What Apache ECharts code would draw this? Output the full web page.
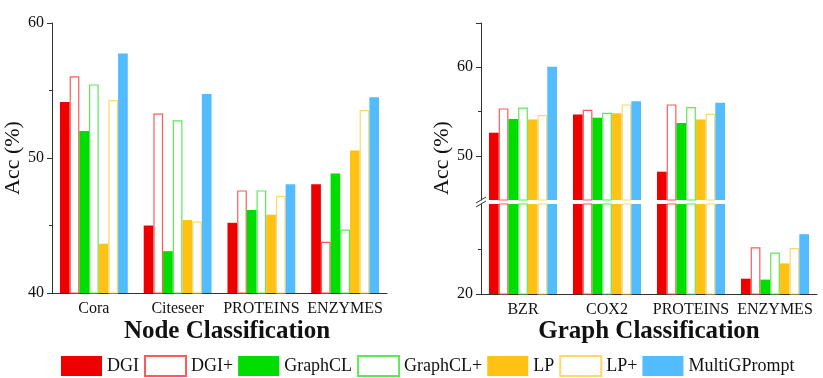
<!DOCTYPE html>
<html><head><meta charset="utf-8">
<script src="https://cdn.jsdelivr.net/npm/echarts@6/dist/echarts.min.js"></script>
<style>html,body{margin:0;padding:0;background:#fff}#c{width:823px;height:378px}</style>
</head><body><div id="c"></div>
<script>
const seriesNames = ['DGI', 'DGI+', 'GraphCL', 'GraphCL+', 'LP', 'LP+', 'MultiGPrompt'];
const nodeCategories = ['Cora', 'Citeseer', 'PROTEINS', 'ENZYMES'];
const graphCategories = ['BZR', 'COX2', 'PROTEINS', 'ENZYMES'];

// Node classification accuracies (%)
const nodeDGI         = [54.15, 45.0, 45.2, 48.05];
const nodeDGIPlus     = [56.05, 53.3, 47.6, 43.8];
const nodeGraphCL     = [52.0, 43.1, 46.15, 48.85];
const nodeGraphCLPlus = [55.45, 52.8, 47.6, 44.7];
const nodeLP          = [43.65, 45.4, 45.8, 50.55];
const nodeLPPlus      = [54.3, 45.3, 47.2, 53.55];
const nodeMulti       = [57.75, 54.75, 48.05, 54.5];

// Graph classification accuracies (%)
const graphDGI         = [52.6, 54.65, 48.2, 21.7];
const graphDGIPlus     = [55.35, 55.2, 55.8, 25.2];
const graphGraphCL     = [54.15, 54.3, 53.7, 21.6];
const graphGraphCLPlus = [55.45, 54.85, 55.5, 24.6];
const graphLP          = [54.1, 54.8, 54.1, 23.4];
const graphLPPlus      = [54.6, 55.8, 54.75, 25.1];
const graphMulti       = [60.05, 56.15, 56.0, 26.65];

const nodeTicks = [40, 50, 60];
const nodeMinorTicks = [45, 55];
const graphUpperTicks = [50, 60];
const graphUpperMinor = [55];
const graphLowerTicks = [20];
const graphLowerMinor = [25];

const nodeData = [nodeDGI, nodeDGIPlus, nodeGraphCL, nodeGraphCLPlus, nodeLP, nodeLPPlus, nodeMulti];
const graphData = [graphDGI, graphDGIPlus, graphGraphCL, graphGraphCLPlus, graphLP, graphLPPlus, graphMulti];

const colors = ['#ee0000', '#ff5a5a', '#00dd00', '#5be85b', '#fec214', '#ffd76a', '#52bcfe'];
const outlined = [false, true, false, true, false, true, false];

const FONT = 'Liberation Serif, Times New Roman, serif';
const AX = '#333';
const TXT = '#111';

function mk(i, data, xi, yi) {
  return {
    type: 'bar', name: seriesNames[i], data: data, xAxisIndex: xi, yAxisIndex: yi,
    barGap: '0%', barCategoryGap: '19%', clip: true,
    itemStyle: outlined[i] ? { color: '#ffffff', borderColor: colors[i], borderWidth: 1.2 } : { color: colors[i] },
    emphasis: { disabled: true }
  };
}
const series = [];
for (let i = 0; i < 7; i++) series.push(mk(i, nodeData[i], 0, 0));
for (let i = 0; i < 7; i++) series.push(mk(i, graphData[i], 2, 1));
for (let i = 0; i < 7; i++) series.push(mk(i, graphData[i], 3, 3));

function catAxis(grid, data, showLabels) {
  return {
    type: 'category', gridIndex: grid, data: data, position: 'bottom',
    axisLine: { onZero: false, lineStyle: { color: AX, width: 1 } },
    axisTick: { alignWithLabel: true, length: 5, lineStyle: { color: AX } },
    axisLabel: { show: showLabels, interval: 0, fontFamily: FONT, fontSize: 16, color: TXT, margin: 8 },
    splitLine: { show: false }
  };
}
function boundAxis(grid, data) {
  return {
    type: 'category', gridIndex: grid, data: data, position: 'bottom',
    axisLine: { show: false, onZero: false },
    axisTick: { alignWithLabel: false, length: 2, lineStyle: { color: AX } },
    axisLabel: { show: false }, splitLine: { show: false }
  };
}
function valAxis(grid, min, max, ticks, labels) {
  return {
    type: 'value', gridIndex: grid, min: min, max: max, position: 'left',
    axisLine: { show: true, lineStyle: { color: AX, width: 1 } },
    axisTick: { show: true, length: 5, customValues: ticks, lineStyle: { color: AX } },
    axisLabel: { customValues: labels, fontFamily: FONT, fontSize: 16, color: TXT, margin: 8 },
    splitLine: { show: false }
  };
}
function minorAxis(grid, min, max, ticks) {
  return {
    type: 'value', gridIndex: grid, min: min, max: max, position: 'left',
    axisLine: { show: false },
    axisTick: { show: true, length: 3, customValues: ticks, lineStyle: { color: AX } },
    axisLabel: { show: false }, splitLine: { show: false }
  };
}

const option = {
  animation: false,
  backgroundColor: '#ffffff',
  grid: [
    { left: 52, top: 23, width: 335, height: 270 },
    { left: 481, top: 23, width: 336, height: 177 },
    { left: 481, top: 204, width: 336, height: 90 }
  ],
  xAxis: [
    catAxis(0, nodeCategories, true),
    boundAxis(0, nodeCategories),
    Object.assign(catAxis(1, graphCategories, false), { show: false }),
    catAxis(2, graphCategories, true),
    boundAxis(2, graphCategories)
  ],
  yAxis: [
    valAxis(0, 40, 60, nodeTicks, nodeTicks),
    valAxis(1, 45, 65, graphUpperTicks.concat([65]), graphUpperTicks),
    minorAxis(1, 45, 65, graphUpperMinor),
    valAxis(2, 20, 30, graphLowerTicks, graphLowerTicks),
    minorAxis(2, 20, 30, graphLowerMinor),
    minorAxis(0, 40, 60, nodeMinorTicks)
  ],
  legend: {
    data: seriesNames, left: 61, top: 355, padding: 0,
    itemWidth: 41, itemHeight: 20, itemGap: 5, icon: 'rect',
    selectedMode: false,
    textStyle: { fontFamily: FONT, fontSize: 18, color: TXT }
  },
  graphic: [
    { type: 'text', x: 13, y: 158, rotation: Math.PI / 2,
      style: { text: 'Acc (%)', font: '22px ' + FONT, fill: TXT, align: 'center', verticalAlign: 'middle' } },
    { type: 'text', x: 442, y: 158, rotation: Math.PI / 2,
      style: { text: 'Acc (%)', font: '22px ' + FONT, fill: TXT, align: 'center', verticalAlign: 'middle' } },
    { type: 'text', x: 227, y: 332,
      style: { text: 'Node Classification', font: 'bold 25px ' + FONT, fill: TXT, align: 'center', verticalAlign: 'middle' } },
    { type: 'text', x: 649, y: 332,
      style: { text: 'Graph Classification', font: 'bold 25px ' + FONT, fill: TXT, align: 'center', verticalAlign: 'middle' } },
    { type: 'line', shape: { x1: 476, y1: 203, x2: 486, y2: 197 }, style: { stroke: AX, lineWidth: 1 } },
    { type: 'line', shape: { x1: 476, y1: 207, x2: 486, y2: 201 }, style: { stroke: AX, lineWidth: 1 } }
  ],
  series: series
};
const chart = echarts.init(document.getElementById('c'), null, { renderer: 'canvas' });
chart.setOption(option);
</script>
</body></html>
